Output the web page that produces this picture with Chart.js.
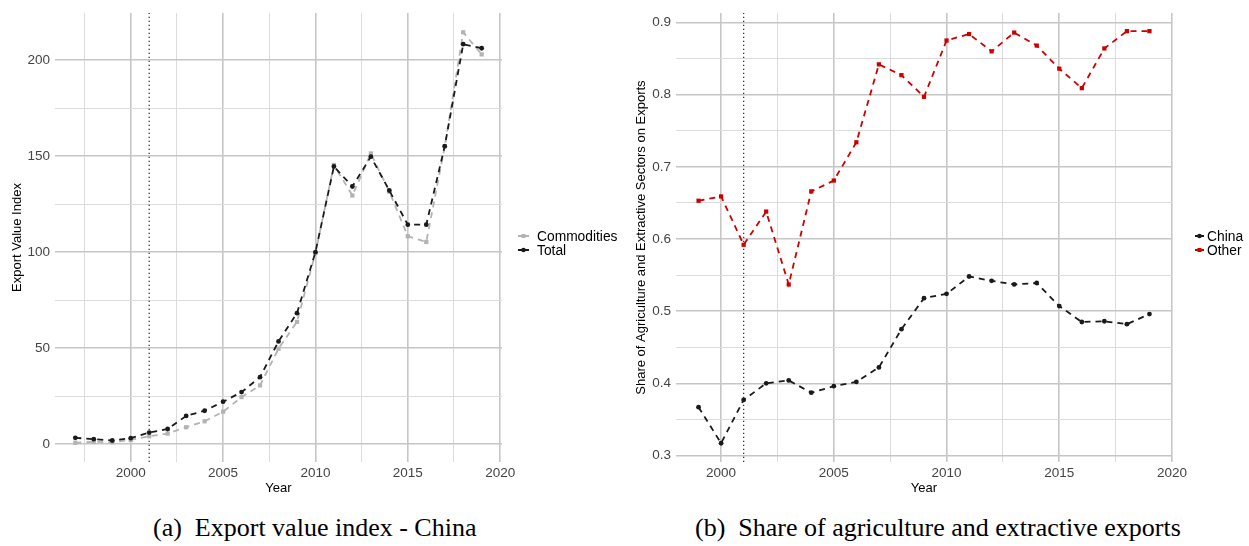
<!DOCTYPE html>
<html>
<head>
<meta charset="utf-8">
<script src="https://cdn.jsdelivr.net/npm/chart.js@4.4.0/dist/chart.umd.min.js"></script>
<style>
body { margin: 0; background: #fff; width: 1249px; height: 546px; position: relative; overflow: hidden; font-family: "Liberation Sans", Arial, sans-serif; }
.panel { position: absolute; top: 0; height: 500px; }
.legend { position: absolute; font-size: 13.8px; color: #000; }
.legend div { display: flex; align-items: center; height: 14px; }
.caption { position: absolute; top: 513px; font-family: "Liberation Serif", "Times New Roman", serif; font-size: 26px; line-height: 30px; white-space: pre; color: #000; }
</style>
</head>
<body>

<div class="panel" style="left:0;width:630px"><canvas id="chartA"></canvas></div>
<div class="panel" style="left:630px;width:619px"><canvas id="chartB"></canvas></div>

<div class="legend" style="left:518px;top:229px">
  <div><svg width="11" height="8" style="margin-right:8px"><line x1="0" y1="4" x2="11" y2="4" stroke="#b3b3b3" stroke-width="2"/><rect x="3.5" y="2" width="4" height="4" fill="#b3b3b3"/></svg>Commodities</div>
  <div><svg width="11" height="8" style="margin-right:8px"><line x1="0" y1="4" x2="11" y2="4" stroke="#1a1a1a" stroke-width="2"/><circle cx="5.5" cy="4" r="2.3" fill="#1a1a1a"/></svg>Total</div>
</div>
<div class="legend" style="left:1195px;top:229px">
  <div><svg width="9" height="8" style="margin-right:3px"><line x1="0" y1="4" x2="9" y2="4" stroke="#1a1a1a" stroke-width="2"/><circle cx="4.5" cy="4" r="2.3" fill="#1a1a1a"/></svg>China</div>
  <div><svg width="9" height="8" style="margin-right:3px"><line x1="0" y1="4" x2="9" y2="4" stroke="#cd0000" stroke-width="2"/><rect x="2.5" y="2" width="4" height="4" fill="#cd0000"/></svg>Other</div>
</div>

<div class="caption" style="left:153px">(a)  Export value index - China</div>
<div class="caption" style="left:695px">(b)  Share of agriculture and extractive exports</div>

<script>
// panel (a)
const yearsA = [1997, 1998, 1999, 2000, 2001, 2002, 2003, 2004, 2005, 2006, 2007, 2008,
                2009, 2010, 2011, 2012, 2013, 2014, 2015, 2016, 2017, 2018, 2019];
const commodities = [0.7, 1.2, 1.0, 2.2, 4.1, 5.5, 8.8, 11.9, 16.9, 24.5, 30.6, 49.7,
                     63.7, 99.5, 145.4, 129.5, 151.4, 131.5, 108.3, 105.3, 155.0, 214.5, 203.0];
const total = [3.3, 2.6, 1.9, 3.1, 6.0, 7.9, 14.7, 17.4, 22.1, 27.1, 34.9, 53.5,
               68.2, 100.0, 144.6, 134.2, 149.7, 132.1, 114.3, 114.3, 155.2, 208.3, 206.2];
const yLabelsA = [0, 50, 100, 150, 200];

// panel (b)
const yearsB = [1999, 2000, 2001, 2002, 2003, 2004, 2005, 2006, 2007, 2008, 2009,
                2010, 2011, 2012, 2013, 2014, 2015, 2016, 2017, 2018, 2019];
const china = [0.367, 0.317, 0.377, 0.400, 0.404, 0.387, 0.396, 0.402, 0.422, 0.475, 0.518,
               0.524, 0.548, 0.542, 0.537, 0.539, 0.507, 0.485, 0.486, 0.482, 0.496];
const other = [0.653, 0.659, 0.592, 0.638, 0.537, 0.666, 0.681, 0.734, 0.842, 0.827, 0.797,
               0.875, 0.884, 0.860, 0.886, 0.868, 0.836, 0.809, 0.864, 0.888, 0.888];
const yLabelsB = [0.3, 0.4, 0.5, 0.6, 0.7, 0.8, 0.9];

const xLabels = [2000, 2005, 2010, 2015, 2020];
const wtoYear = 2001;

Chart.defaults.font.family = '"Liberation Sans", Arial, sans-serif';
Chart.defaults.animation = false;

function near(v, list) {
    return list.some(l => Math.abs(l - v) < 1e-6);
}

function grid(labels) {
    return {
        drawTicks: false,
        color: c => (c.tick && near(c.tick.value, labels)) ? '#c6c6c6' : '#dcdcdc',
        lineWidth: c => (c.tick && near(c.tick.value, labels)) ? 1.6 : 1
    };
}

function points(xs, ys) {
    return xs.map((x, i) => ({x: x, y: ys[i]}));
}

function series(label, xs, ys, color, style, order) {
    return {
        label: label,
        data: points(xs, ys),
        borderColor: color,
        backgroundColor: color,
        borderWidth: 1.8,
        borderDash: [6, 5],
        pointStyle: style,
        pointRadius: style === 'rect' ? 3 : 2.4,
        pointBorderWidth: 0,
        order: order
    };
}

function wtoLine(yMin, yMax) {
    return {
        label: 'wto',
        data: [{x: wtoYear, y: yMin}, {x: wtoYear, y: yMax}],
        borderColor: '#333',
        borderWidth: 1.3,
        borderDash: [1.3, 2.7],
        pointRadius: 0,
        order: 9
    };
}

function makeChart(id, cfg) {
    new Chart(document.getElementById(id), {
        type: 'line',
        data: {datasets: cfg.datasets},
        options: {
            responsive: true,
            maintainAspectRatio: false,
            layout: {padding: {left: 0, right: cfg.padRight, top: 10, bottom: 0}},
            plugins: {legend: {display: false}, tooltip: {enabled: false}},
            scales: {
                x: {
                    type: 'linear',
                    min: cfg.xMin,
                    max: cfg.xMax,
                    afterFit: s => { s.height = 38; },
                    border: {display: false},
                    grid: grid(xLabels),
                    ticks: {
                        stepSize: 2.5, includeBounds: false, autoSkip: false, maxRotation: 0,
                        padding: 3, color: '#444', font: {size: 13.5},
                        callback: v => near(v, xLabels) ? String(Math.round(v)) : ''
                    },
                    title: {display: true, text: 'Year', color: '#000', font: {size: 13},
                            padding: {top: 0, bottom: 4}}
                },
                y: {
                    type: 'linear',
                    min: cfg.yMin,
                    max: cfg.yMax,
                    afterFit: s => { s.width = cfg.yWidth; },
                    border: {display: false},
                    grid: grid(cfg.yLabels),
                    ticks: {
                        stepSize: cfg.yStep, includeBounds: false, autoSkip: false, maxTicksLimit: 30,
                        padding: cfg.yPad, color: '#444', font: {size: 13.5},
                        callback: v => near(v, cfg.yLabels) ? cfg.fmt(v) : ''
                    },
                    title: {display: true, text: cfg.yTitle, color: '#000', font: {size: 13},
                            padding: {top: cfg.yTitlePad, bottom: 0}}
                }
            }
        }
    });
}

makeChart('chartA', {
    datasets: [
        series('Total', yearsA, total, '#1a1a1a', 'circle', 1),
        series('Commodities', yearsA, commodities, '#b3b3b3', 'rect', 2),
        wtoLine(-9.3, 224.5)
    ],
    xMin: 1995.9, xMax: 2020.1,
    yMin: -9.3, yMax: 224.5, yStep: 25, yLabels: yLabelsA,
    fmt: v => String(Math.round(v)),
    yWidth: 55, yPad: 5, yTitlePad: 10, padRight: 128,
    yTitle: 'Export Value Index'
});

makeChart('chartB', {
    datasets: [
        series('Other', yearsB, other, '#cd0000', 'rect', 1),
        series('China', yearsB, china, '#1a1a1a', 'circle', 2),
        wtoLine(0.291, 0.913)
    ],
    xMin: 1998, xMax: 2020,
    yMin: 0.291, yMax: 0.913, yStep: 0.05, yLabels: yLabelsB,
    fmt: v => v.toFixed(1),
    yWidth: 46, yPad: 5, yTitlePad: 4, padRight: 77,
    yTitle: 'Share of Agriculture and Extractive Sectors on Exports'
});
</script>
</body>
</html>
